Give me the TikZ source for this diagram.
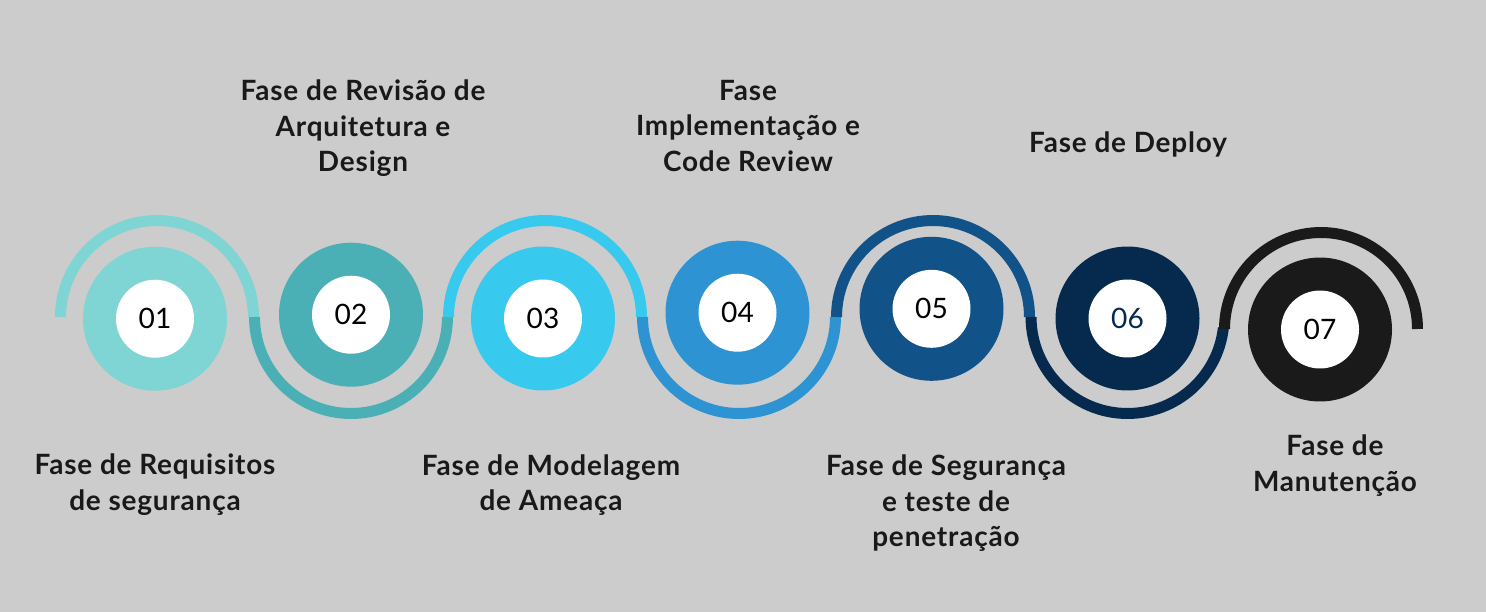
\documentclass[tikz,border=0pt]{standalone}
\usepackage{fontspec}
\setmainfont{Lato}[LetterSpace=3.0]
\newfontfamily\numfont{Lato}

\definecolor{bgray}{HTML}{CCCCCC}
\definecolor{cone}{HTML}{7FD4D4}
\definecolor{ctwo}{HTML}{4BB0B5}
\definecolor{cthree}{HTML}{38C9EE}
\definecolor{cfour}{HTML}{2D93D3}
\definecolor{cfive}{HTML}{115288}
\definecolor{csix}{HTML}{062A4E}
\definecolor{cseven}{HTML}{1A1A1A}

\tikzset{
  disk/.style={circle, inner sep=0pt, minimum size=2.88cm},
  hole/.style={circle, fill=white, inner sep=0pt, minimum size=1.56cm,
    font=\numfont\fontsize{16}{16}\selectfont, text=black},
  ring/.style={line width=0.22cm},
  phase/.style={align=center, anchor=base, text=black!90,
    font=\bfseries\fontsize{15.9}{20.2}\selectfont}
}

\begin{document}
\begin{tikzpicture}[x=0.02cm, y=0.02cm]
  \fill[bgray] (0,0) rectangle (1486,-612);
  \useasboundingbox (0,0) rectangle (1486,-612);

  % centres of the half rings
  \coordinate (a1) at (157,-317);
  \coordinate (a2) at (351,-317);
  \coordinate (a3) at (545,-317);
  \coordinate (a4) at (739,-317);
  \coordinate (a5) at (933,-317);
  \coordinate (a6) at (1127.5,-317);
  \coordinate (a7) at (1321,-329);

  % half rings
  \draw[ring, cone] ([xshift=-1.93cm]a1) arc[start angle=180, end angle=0, radius=1.93cm];
  \draw[ring, ctwo] ([xshift=-1.93cm]a2) arc[start angle=180, end angle=360, radius=1.93cm];
  \draw[ring, cthree] ([xshift=-1.93cm]a3) arc[start angle=180, end angle=0, radius=1.93cm];
  \draw[ring, cfour] ([xshift=-1.93cm]a4) arc[start angle=180, end angle=360, radius=1.93cm];
  \draw[ring, cfive] ([xshift=-1.93cm]a5) arc[start angle=180, end angle=0, radius=1.93cm];
  \draw[ring, csix] ([xshift=-1.93cm]a6) arc[start angle=180, end angle=353.5, radius=1.93cm];
  \draw[ring, cseven] ([xshift=-1.93cm]a7) arc[start angle=180, end angle=0, radius=1.93cm];

  % discs
  \node[disk, fill=cone] (d1) at (155,-318.7) {};
  \node[disk, fill=ctwo] (d2) at (351,-314.7) {};
  \node[disk, fill=cthree] (d3) at (543,-318.5) {};
  \node[disk, fill=cfour] (d4) at (737.5,-312.7) {};
  \node[disk, fill=cfive] (d5) at (931.5,-308.8) {};
  \node[disk, fill=csix] (d6) at (1127.5,-318.5) {};
  \node[disk, fill=cseven] (d7) at (1320,-329.5) {};

  \node[hole] (n1) at (d1) {01};
  \node[hole] (n2) at (d2) {02};
  \node[hole] (n3) at (d3) {03};
  \node[hole] (n4) at (d4) {04};
  \node[hole] (n5) at (d5) {05};
  \node[hole, text=csix] (n6) at (d6) {06};
  \node[hole] (n7) at (d7) {07};

  % phase labels (placed at the baseline of their last line)
  \node[phase] (t2) at (363,-171.7) {Fase de Revisão de\\Arquitetura e\\Design};
  \node[phase] (t4) at (748,-171) {Fase\\Implementação e\\Code Review};
  \node[phase] (t6) at (1128,-152.7) {Fase de Deploy};
  \node[phase] (b1) at (155,-510) {Fase de Requisitos\\de segurança};
  \node[phase] (b3) at (551,-510.7) {Fase de Modelagem\\de Ameaça};
  \node[phase] (b5) at (946,-546.7) {Fase de Segurança\\e teste de\\penetração};
  \node[phase] (b7) at (1335,-491) {Fase de\\Manutenção};
\end{tikzpicture}
\end{document}
